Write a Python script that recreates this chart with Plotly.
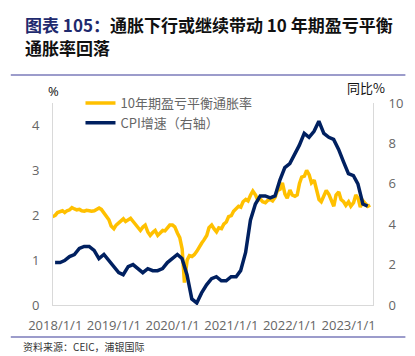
import pandas as pd
import plotly.graph_objects as go

# ---------------- data ----------------
# 10-year breakeven inflation rate (%), semi-monthly readings from 2017-12-15
breakeven_start = "2017-12-15"
breakeven_end = "2023-05-20"
breakeven = [
    1.97,
    # 2018
    2.00, 2.06, 2.08, 2.10, 2.06, 2.10, 2.12, 2.17, 2.14, 2.12, 2.13, 2.10,
    2.09, 2.11, 2.10, 2.09, 2.10, 2.13, 2.16, 2.13, 2.05, 1.98, 1.90, 1.76,
    # 2019
    1.70, 1.78, 1.84, 1.88, 1.92, 1.86, 1.90, 1.93, 1.86, 1.80, 1.70, 1.66,
    1.74, 1.78, 1.62, 1.55, 1.62, 1.66, 1.55, 1.60, 1.66, 1.65, 1.72, 1.78,
    # 2020
    1.78, 1.74, 1.60, 1.50, 1.25, 0.50, 1.00, 1.10, 1.08, 1.12, 1.20, 1.30,
    1.38, 1.45, 1.55, 1.72, 1.78, 1.70, 1.63, 1.72, 1.70, 1.80, 1.85, 1.97,
    # 2021
    1.99, 2.09, 2.15, 2.20, 2.18, 2.30, 2.35, 2.32, 2.45, 2.54, 2.45, 2.33,
    2.36, 2.30, 2.28, 2.33, 2.35, 2.32, 2.40, 2.55, 2.58, 2.72, 2.47, 2.38,
    # 2022
    2.56, 2.45, 2.42, 2.45, 2.70, 2.85, 2.87, 3.00, 2.90, 2.72, 2.78, 2.55,
    2.35, 2.30, 2.45, 2.55, 2.46, 2.35, 2.20, 2.45, 2.52, 2.35, 2.30, 2.22,
    # 2023
    2.30, 2.20, 2.28, 2.45, 2.38, 2.18, 2.32, 2.26, 2.20, 2.23,
]

# US CPI YoY (%), monthly from 2017-12
cpi_start = "2017-12-31"
cpi_end = "2023-04-30"
cpi = [
    2.1,
    2.1, 2.2, 2.4, 2.5, 2.8, 2.9, 2.9, 2.7, 2.3, 2.5, 2.2, 1.9,
    1.6, 1.5, 1.9, 2.0, 1.8, 1.6, 1.8, 1.7, 1.7, 1.8, 2.1, 2.3,
    2.5, 2.3, 1.5, 0.3, 0.1, 0.6, 1.0, 1.3, 1.4, 1.2, 1.2, 1.4,
    1.4, 1.7, 2.6, 4.2, 5.0, 5.4, 5.4, 5.3, 5.4, 6.2, 6.8, 7.0,
    7.5, 7.9, 8.5, 8.3, 8.6, 9.1, 8.5, 8.3, 8.2, 7.7, 7.1, 6.5,
    6.4, 6.0, 5.0, 4.9,
]

x_tick_vals = ["2018-01-01", "2019-01-01", "2020-01-01", "2021-01-01", "2022-01-01", "2023-01-01"]
x_tick_text = ["2018/1/1", "2019/1/1", "2020/1/1", "2021/1/1", "2022/1/1", "2023/1/1"]
left_ticks = [0, 1, 2, 3, 4]
right_ticks = [0, 2, 4, 6, 8, 10]

name_breakeven = "10年期盈亏平衡通胀率"
name_cpi = "CPI增速（右轴）"
title_prefix = "图表 105："
title_line1 = "通胀下行或继续带动 10 年期盈亏平衡"
title_line2 = "通胀率回落"
source_text = "资料来源：CEIC，浦银国际"

# ---------------- build ----------------
be_dates = pd.date_range(breakeven_start, breakeven_end, freq="SMS")
cpi_dates = pd.date_range(cpi_start, cpi_end, freq=pd.offsets.MonthEnd())

YELLOW = "#FFC000"
NAVY = "#002060"
GREY = "#666666"
AXIS = "#D9D9D9"
CJK = "Noto Sans CJK SC"
TICKFONT = dict(family="Open Sans", size=13, color=GREY)

fig = go.Figure()
fig.add_trace(go.Scatter(x=be_dates, y=breakeven[:len(be_dates)], mode="lines",
                         name=name_breakeven, line=dict(color=YELLOW, width=3.5)))
fig.add_trace(go.Scatter(x=cpi_dates, y=cpi[:len(cpi_dates)], mode="lines",
                         name=name_cpi, yaxis="y2", line=dict(color=NAVY, width=3.5)))

L, R, T, B = 53, 36, 103, 51
W, H = 415, 356
pw, ph = W - L - R, H - T - B


def px(xp):
    return (xp - L) / pw


def py(yp):
    return (H - B - yp) / ph


fig.update_layout(
    width=W, height=H,
    margin=dict(l=L, r=R, t=T, b=B),
    paper_bgcolor="white", plot_bgcolor="white",
    font=dict(family=CJK, color=GREY, size=13),
    showlegend=True,
    legend=dict(x=px(81), y=py(88), xanchor="left", yanchor="top",
                bgcolor="rgba(0,0,0,0)", font=dict(family=CJK, size=13, color=GREY),
                tracegroupgap=0),
    xaxis=dict(type="date", range=["2017-12-18", "2023-06-02"],
               tickvals=x_tick_vals, ticktext=x_tick_text,
               showgrid=False, zeroline=False, showline=True, linecolor=AXIS, linewidth=1,
               ticks="", ticklabelstandoff=8, tickfont=TICKFONT),
    yaxis=dict(range=[0, 4.5], tickvals=left_ticks, showgrid=False, zeroline=False,
               showline=True, linecolor=AXIS, linewidth=1, ticks="",
               ticklabelstandoff=10, tickfont=TICKFONT),
    yaxis2=dict(range=[0, 10], tickvals=right_ticks, overlaying="y", side="right",
                showgrid=False, zeroline=False, showline=True, linecolor=AXIS, linewidth=1,
                ticks="", ticklabelstandoff=12, tickfont=TICKFONT),
)

annotations = [
    dict(x=px(22), y=py(24), xref="paper", yref="paper", xanchor="left", yanchor="middle",
         showarrow=False,
         text=f"<b><span style='color:#1F2A6E'>{title_prefix}</span>{title_line1}</b>",
         font=dict(family=CJK, size=17, color="#111111")),
    dict(x=px(22), y=py(48), xref="paper", yref="paper", xanchor="left", yanchor="middle",
         showarrow=False, text=f"<b>{title_line2}</b>",
         font=dict(family=CJK, size=17, color="#111111")),
    dict(x=px(54), y=py(91), xref="paper", yref="paper", xanchor="center", yanchor="middle",
         showarrow=False, text="%", font=dict(family="Open Sans", size=13, color="#111111")),
    dict(x=px(372), y=py(88), xref="paper", yref="paper", xanchor="center", yanchor="middle",
         showarrow=False, text="同比%", font=dict(family=CJK, size=13, color="#111111")),
    dict(x=px(20), y=py(346), xref="paper", yref="paper", xanchor="left", yanchor="middle",
         showarrow=False, text=source_text, font=dict(family=CJK, size=10, color="#333333")),
]
fig.update_layout(annotations=annotations)

fig.update_layout(shapes=[
    dict(type="line", xref="paper", yref="paper", x0=px(10), x1=px(412), y0=py(75), y1=py(75),
         line=dict(color="#9C9CCB", width=2)),
    dict(type="line", xref="paper", yref="paper", x0=px(10), x1=px(412), y0=py(337), y1=py(337),
         line=dict(color="#9C9CCB", width=2)),
])

fig.write_html("out.html",
               config={"displayModeBar": False},
               post_script="document.body.style.margin='0';document.body.style.padding='0';")
